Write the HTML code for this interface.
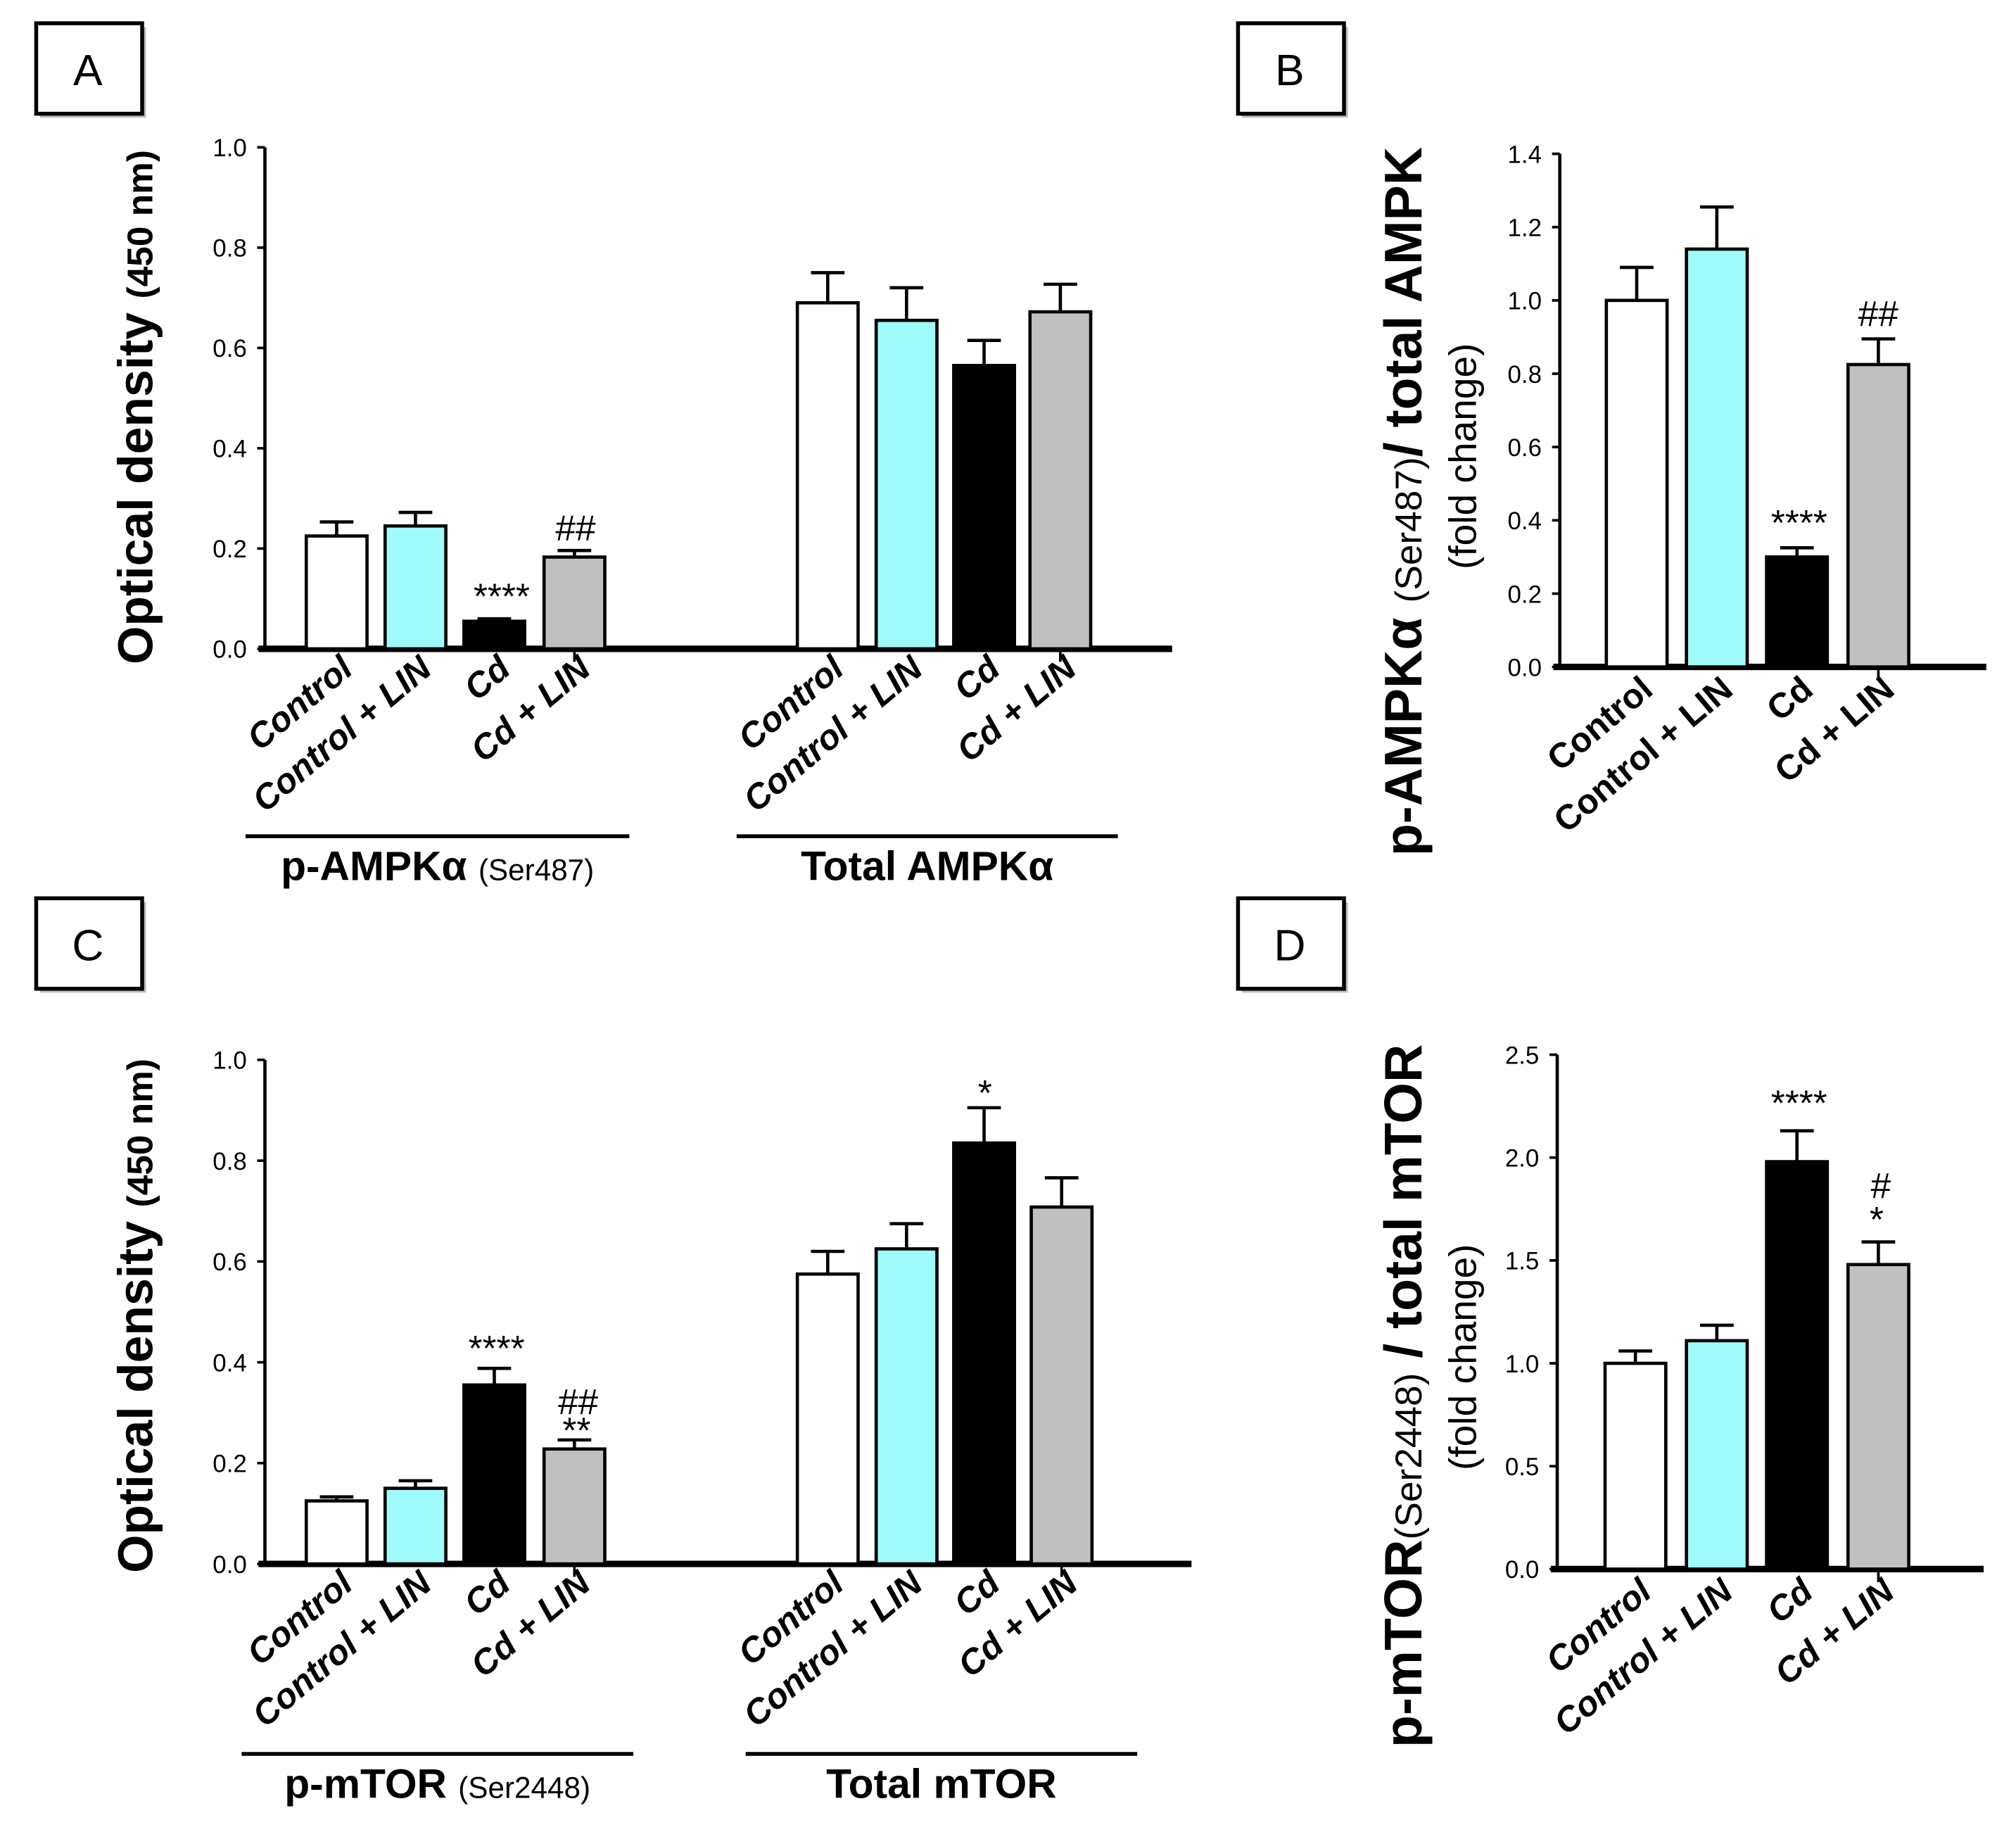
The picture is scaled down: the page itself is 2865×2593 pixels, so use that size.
<!DOCTYPE html>
<html><head><meta charset="utf-8"><style>
html,body{margin:0;padding:0;background:#fff}
svg{display:block}
text{font-family:"Liberation Sans",sans-serif}
</style></head><body>
<svg id="fig" width="2865" height="2593" viewBox="0 0 1560 1412" preserveAspectRatio="none" xmlns="http://www.w3.org/2000/svg"></svg>
<script>
// Panel A data
const groupsA = ["Control","Control + LIN","Cd","Cd + LIN"];
const pAmpkVals = [0.225,0.245,0.055,0.183];
const pAmpkErr = [0.028,0.027,0.005,0.013];
const tAmpkVals = [0.69,0.655,0.565,0.672];
const tAmpkErr = [0.06,0.065,0.05,0.055];
const ticksA = [0,0.2,0.4,0.6,0.8,1.0];
// Panel B data
const ratioAmpkVals = [1.0,1.14,0.30,0.825];
const ratioAmpkErr = [0.09,0.115,0.025,0.07];
const ticksB = [0,0.2,0.4,0.6,0.8,1.0,1.2,1.4];
// Panel C data
const pMtorVals = [0.125,0.15,0.355,0.228];
const pMtorErr = [0.008,0.015,0.033,0.018];
const tMtorVals = [0.575,0.625,0.835,0.708];
const tMtorErr = [0.045,0.05,0.07,0.058];
// Panel D data
const ratioMtorVals = [1.0,1.11,1.98,1.48];
const ratioMtorErr = [0.06,0.075,0.15,0.11];
const ticksD = [0,0.5,1.0,1.5,2.0,2.5];

const fills = ["#ffffff","#9ffafa","#000000","#c0c0c0"];
const NS="http://www.w3.org/2000/svg";
const svg=document.getElementById('fig');
function el(tag,attrs,parent,txt){const e=document.createElementNS(NS,tag);for(const k in attrs)e.setAttribute(k,attrs[k]);if(txt!==undefined)e.textContent=txt;(parent||svg).appendChild(e);return e;}

function panelBox(x,y,letter){
  const g=el('g',{});
  
  
  el('rect',{x:x+3,y:y+3,width:82,height:70,fill:'#bbb'},g);
  el('rect',{x:x,y:y,width:82,height:70,fill:'#fff',stroke:'#000','stroke-width':3},g);
  el('text',{x:x+40,y:y+48,'font-size':34,'text-anchor':'middle'},g,letter);
}

function drawAxis(ax,ticks,id){
  const g=el('g',{});
  
  
  const max=ticks[ticks.length-1];
  const sy=v=>ax.y0-(v/max)*(ax.y0-ax.y1);
  el('line',{x1:ax.x,y1:ax.y1,x2:ax.x,y2:ax.y0,stroke:'#000','stroke-width':2.5},g);
  ticks.forEach(t=>{
    el('line',{x1:ax.x-6,y1:sy(t),x2:ax.x,y2:sy(t),stroke:'#000','stroke-width':2},g);
    const tx=el('text',{x:ax.x-14,y:sy(t)+7,'font-size':19,'text-anchor':'end'},g,t.toFixed(1));
    
    
  });
  el('line',{x1:ax.x-5,y1:ax.y0,x2:ax.xend,y2:ax.y0,stroke:'#000','stroke-width':5},g);
  return sy;
}

function drawBars(id,sy,xs,w,vals,errs,y0,italic,labelY){
  vals.forEach((v,i)=>{
    const x=xs[i], top=sy(v), etop=sy(v+errs[i]);
    const cx=x+w/2;
    const eb=el('line',{x1:cx,y1:top,x2:cx,y2:etop,stroke:'#000','stroke-width':2.5});
    
    
    const cap=el('line',{x1:cx-13,y1:etop,x2:cx+13,y2:etop,stroke:'#000','stroke-width':2.5});
    
    
    const r=el('rect',{x:x,y:top,width:w,height:y0-top,fill:fills[i],stroke:'#000','stroke-width':2.5});
    
    
    const t=el('text',{x:cx+14,y:labelY,'font-size':27,'font-weight':'bold','font-style':italic?'italic':'normal','text-anchor':'end',transform:`rotate(-40 ${cx+14} ${labelY})`},svg,groupsA[i]);
    
    
  });
  el('line',{x1:xs[3]+w/2,y1:y0,x2:xs[3]+w/2,y2:y0+10,stroke:'#000','stroke-width':2});
}

function annot(x,y,txt,name){
  const t=el('text',{x:x,y:y,'font-size':28,'font-style':'italic','text-anchor':'middle','font-family':'Liberation Serif, serif'},svg,txt);
  
  
}

function groupLabel(x1,x2,y,html,name){
  el('line',{x1:x1,y1:y,x2:x2,y2:y,stroke:'#000','stroke-width':3});
  const t=el('text',{x:(x1+x2)/2,y:y+34,'font-size':32,'font-weight':'bold','text-anchor':'middle'});
  t.innerHTML=html;
  
  
}

function yTitle(x,y,html,size,name,weight){
  const t=el('text',{x:x,y:y,'font-size':size,'font-weight':weight||'bold','text-anchor':'middle',transform:`rotate(-90 ${x} ${y})`});
  t.innerHTML=html;
  
  
}

const g1=[237,298,359,421], g2=[617,678,738,797], bw=47;
const gB=[1243,1305,1367,1430];

// Panel A
panelBox(28,18,'A');
let sy=drawAxis({x:205,y1:114,y0:502,xend:907},ticksA,'a');
drawBars('a-pampk',sy,g1,bw,pAmpkVals,pAmpkErr,502,true,520);
drawBars('a-tampk',sy,g2,bw,tAmpkVals,tAmpkErr,502,true,520);
annot(387,sy(pAmpkVals[2]+pAmpkErr[2])-8,'****','a-annot-cd');
annot(445,sy(pAmpkVals[3]+pAmpkErr[3])-8,'##','a-annot-cdlin');
groupLabel(190,487,647,'p-AMPKα <tspan font-size="23" font-weight="normal">(Ser487)</tspan>','a-group-label-p');
groupLabel(570,865,647,'Total AMPKα','a-group-label-total');
yTitle(118,315,'Optical density <tspan font-size="28">(450 nm)</tspan>',38,'a-y-title');

// Panel B
panelBox(958,18,'B');
sy=drawAxis({x:1207,y1:119,y0:516,xend:1537},ticksB,'b');
drawBars('b',sy,gB,bw,ratioAmpkVals,ratioAmpkErr,516,false,536);
annot(1391,sy(ratioAmpkVals[2]+ratioAmpkErr[2])-10,'****','b-annot-cd');
annot(1453,sy(ratioAmpkVals[3]+ratioAmpkErr[3])-10,'##','b-annot-cdlin');
yTitle(1100,388,'p-AMPKα <tspan font-size="29" font-weight="normal">(Ser487)</tspan>/ total AMPK',41,'b-y-title');
yTitle(1142,353,'(fold change)',30,'b-y-subtitle','normal');

// Panel C
panelBox(28,695,'C');
sy=drawAxis({x:205,y1:820,y0:1210,xend:922},ticksA,'c');
drawBars('c-pmtor',sy,g1,bw,pMtorVals,pMtorErr,1210,true,1228);
drawBars('c-tmtor',sy,[617,678,738,798],bw,tMtorVals,tMtorErr,1210,true,1228);
annot(383,sy(pMtorVals[2]+pMtorErr[2])-6,'****','c-annot-cd');
annot(447,sy(pMtorVals[3]+pMtorErr[3])-20,'##','c-annot-cdlin-hash');
annot(445,sy(pMtorVals[3]+pMtorErr[3])+2,'**','c-annot-cdlin-star');
annot(761,sy(tMtorVals[2]+tMtorErr[2])-2,'*','c-annot-total-cd');
groupLabel(187,490,1357,'p-mTOR <tspan font-size="23" font-weight="normal">(Ser2448)</tspan>','c-group-label-p');
groupLabel(577,880,1357,'Total mTOR','c-group-label-total');
yTitle(118,1018,'Optical density <tspan font-size="28">(450 nm)</tspan>',38,'c-y-title');

// Panel D
panelBox(958,695,'D');
sy=drawAxis({x:1205,y1:816,y0:1214,xend:1535},ticksD,'d');
drawBars('d',sy,[1242,1305,1367,1430],bw,ratioMtorVals,ratioMtorErr,1214,true,1234);
annot(1391,sy(ratioMtorVals[2]+ratioMtorErr[2])-12,'****','d-annot-cd');
annot(1455,sy(ratioMtorVals[3]+ratioMtorErr[3])-34,'#','d-annot-cdlin-hash');
annot(1451,sy(ratioMtorVals[3]+ratioMtorErr[3])-8,'*','d-annot-cdlin-star');
yTitle(1100,1080,'p-mTOR<tspan font-size="29" font-weight="normal">(Ser2448)</tspan> / total mTOR',41,'d-y-title');
yTitle(1142,1050,'(fold change)',30,'d-y-subtitle','normal');
</script>
</body></html>
